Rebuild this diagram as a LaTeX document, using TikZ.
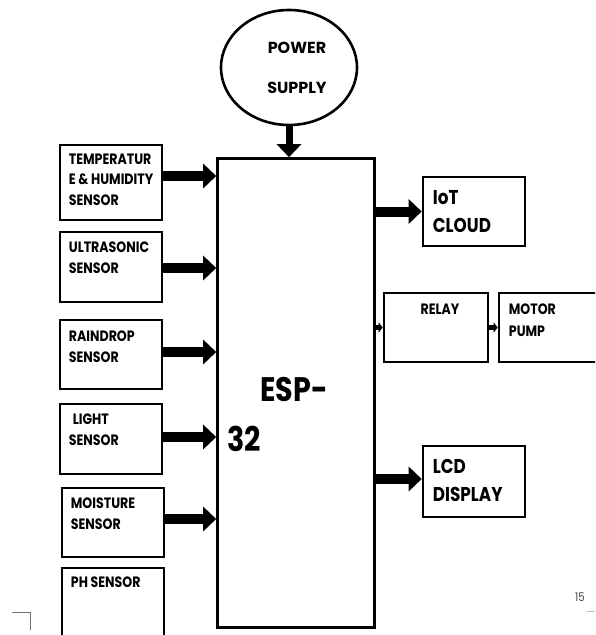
\documentclass[tikz,border=0pt]{standalone}
\usepackage{fontspec}
\setmainfont{Poppins}
\newfontfamily\condfont{Poppins}[FakeStretch=0.84]
\usetikzlibrary{positioning,arrows.meta,shapes.geometric}
\tikzset{
  blk/.style={draw=black, line width=2.6pt, minimum width=#1, minimum height=70pt, inner sep=0pt},
  blk/.default={102pt},
  sens/.style={anchor=north west, align=left, inner sep=0pt, font=\condfont\fontsize{15}{20.5}\selectfont\bfseries},
  outtxt/.style={anchor=north west, align=left, inner sep=0pt, font=\condfont\fontsize{20}{28}\selectfont\bfseries},
  fat/.style={-{Triangle[length=13pt,width=24pt]}, line width=10pt},
  stub/.style={-{Triangle[length=4pt,width=10pt]}, line width=5pt}
}

\begin{document}
\begin{tikzpicture}[x=1pt,y=-1pt]
  \clip (0,0) rectangle (595,635);
  % power supply
  \node[draw, ellipse, line width=2.6pt, minimum width=136pt, minimum height=115pt] (psu) at (289,67.5) {};
  \node[align=center, inner sep=0pt, font=\fontsize{16}{40}\selectfont\bfseries] (psutxt) at (297,68) {POWER\\SUPPLY};
  % controller
  \node[blk, minimum width=157pt, minimum height=469pt] (esp) at (296,393) {};
  \node[anchor=north west, align=left, inner sep=0pt, font=\condfont\fontsize{34}{50}\selectfont\bfseries] (esptxt) at (227,377) {\hspace*{33pt}ESP-\\32};
  % sensors
  \node[blk, minimum height=75pt] (temp) at (111,182.5) {};
  \node[blk] (ultra) at (111,267) {};
  \node[blk, minimum height=69pt] (rain) at (111,354.5) {};
  \node[blk] (light) at (111,439) {};
  \node[blk, minimum height=69pt] (moist) at (113,522.5) {};
  \node[blk, minimum height=84pt] (ph) at (113,610) {};
  \node[sens] (temptxt) at ([shift={(10,10)}]temp.north west) {TEMPERATUR\\E \& HUMIDITY\\SENSOR};
  \node[sens] (ultratxt) at ([shift={(10,11)}]ultra.north west) {ULTRASONIC\\SENSOR};
  \node[sens] (raintxt) at ([shift={(10,12)}]rain.north west) {RAINDROP\\SENSOR};
  \node[sens] (lighttxt) at ([shift={(10,11)}]light.north west) {\hspace*{4pt}LIGHT\\SENSOR};
  \node[sens] (moisttxt) at ([shift={(10,11)}]moist.north west) {MOISTURE\\SENSOR};
  \node[sens] (phtxt) at ([shift={(10,10)}]ph.north west) {PH SENSOR};
  % outputs
  \node[blk, minimum height=69pt] (cloud) at (474,211.5) {};
  \node[blk, minimum width=104pt, minimum height=69pt] (relay) at (436,327.5) {};
  \node[blk, minimum width=101pt, minimum height=69pt] (motor) at (549.5,327.5) {};
  \node[blk, minimum height=71pt] (lcd) at (474,481.5) {};
  \node[outtxt] (cloudtxt) at ([shift={(11,15)}]cloud.north west) {IoT\\CLOUD};
  \node[outtxt] (lcdtxt) at ([shift={(11,14)}]lcd.north west) {LCD\\DISPLAY};
  \node[sens, anchor=north] (relaytxt) at ([shift={(4,12)}]relay.north) {RELAY};
  \node[sens, font=\condfont\fontsize{15}{22}\selectfont\bfseries] (motortxt) at ([shift={(11,12)}]motor.north west) {MOTOR\\PUMP};
  % links
  \draw[fat, line width=7pt] (psu.south) -- (psu.south |- esp.north);
  \draw[fat] ([yshift=6.5pt]temp.east) -- ([yshift=6.5pt]temp.east -| esp.west);
  \draw[fat] ([yshift=-1pt]ultra.east) -- ([yshift=-1pt]ultra.east -| esp.west);
  \draw[fat] ([yshift=2.5pt]rain.east) -- ([yshift=2.5pt]rain.east -| esp.west);
  \draw[fat] ([yshift=2pt]light.east) -- ([yshift=2pt]light.east -| esp.west);
  \draw[fat] ([yshift=3.5pt]moist.east) -- ([yshift=3.5pt]moist.east -| esp.west);
  \draw[fat] (cloud.west -| esp.east) -- (cloud.west);
  \draw[stub] (relay.west -| esp.east) -- (relay.west);
  \draw[stub] (relay.east) -- (motor.west);
  \draw[fat] ([yshift=2.5pt]lcd.west -| esp.east) -- ([yshift=2.5pt]lcd.west);
  % page marks
  \node[inner sep=0pt, text=black!75, font=\condfont\fontsize{12}{12}\selectfont] (pgno) at (580,597) {15};
  \draw[black!55, line width=0.8pt] (12,612) -- (30,612) -- (30,630);
  \draw[black!25, line width=1pt] (587,611) -- (595,611);
\end{tikzpicture}
\end{document}
